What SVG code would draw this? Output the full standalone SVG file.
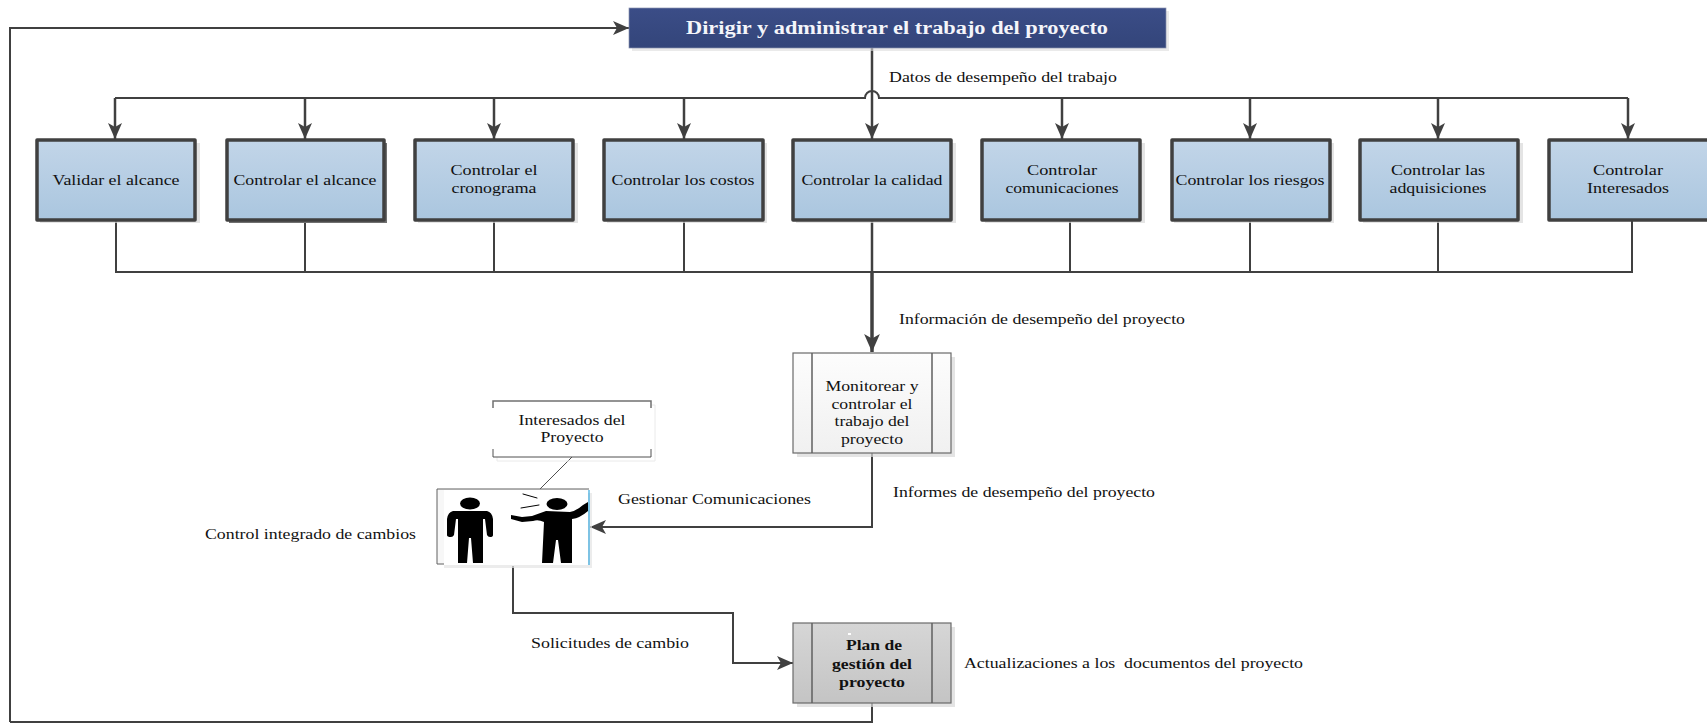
<svg xmlns="http://www.w3.org/2000/svg" width="1707" height="724" viewBox="0 0 1707 724">
<style>
text{font-family:"Liberation Serif","Times New Roman",serif;font-size:15.5px;fill:#111;white-space:pre}
.m{text-anchor:middle}
.box{fill:url(#blue);stroke:#404040;stroke-width:3.5;stroke-linejoin:round}
.sh{fill:#d9d9d9;opacity:.7}
.c{fill:none;stroke:#404040;stroke-width:2}
.h{fill:none;stroke:#404040;stroke-width:2.5}
.t{fill:none;stroke:#404040;stroke-width:3.5}
.inner{fill:none;stroke:#606060;stroke-width:1.5}
.p{fill:#000}
.l{fill:none;stroke:#000;stroke-linecap:round;stroke-linejoin:round}
</style>
<defs>
<linearGradient id="blue" x1="0" y1="0" x2="0" y2="1"><stop offset="0" stop-color="#c2d5e8"/><stop offset="1" stop-color="#aac6df"/></linearGradient>
<linearGradient id="navy" x1="0" y1="0" x2="0" y2="1"><stop offset="0" stop-color="#3b4d87"/><stop offset="1" stop-color="#33457a"/></linearGradient>
<linearGradient id="wh" x1="0" y1="0" x2="0" y2="1"><stop offset="0" stop-color="#fdfdfd"/><stop offset="1" stop-color="#f0f0f0"/></linearGradient>
<linearGradient id="gr" x1="0" y1="0" x2="0" y2="1"><stop offset="0" stop-color="#d6d6d6"/><stop offset="1" stop-color="#c4c4c4"/></linearGradient>
<marker id="a" viewBox="0 0 16 14" refX="16" refY="7" markerWidth="16" markerHeight="14" markerUnits="userSpaceOnUse" orient="auto"><path d="M0 0L16 7L0 14L4 7Z" fill="#404040"/></marker>
<marker id="b" viewBox="0 0 16 14" refX="16" refY="7" markerWidth="18" markerHeight="16" markerUnits="userSpaceOnUse" orient="auto"><path d="M0 0L16 7L0 14L4 7Z" fill="#404040"/></marker>
</defs>

<g id="connectors">
<path class="c" d="M10 722V28H629" marker-end="url(#a)"/>
<path class="c" d="M872 703V722H10"/>
<path class="h" d="M872 48V139" marker-end="url(#a)"/>
<path class="c" d="M115 98H865A7 7 0 0 1 879 98H1628"/>
<path class="h" d="M115 98V139" marker-end="url(#a)"/>
<path class="h" d="M305 98V139" marker-end="url(#a)"/>
<path class="h" d="M494 98V139" marker-end="url(#a)"/>
<path class="h" d="M684 98V139" marker-end="url(#a)"/>
<path class="h" d="M1062 98V139" marker-end="url(#a)"/>
<path class="h" d="M1250 98V139" marker-end="url(#a)"/>
<path class="h" d="M1438 98V139" marker-end="url(#a)"/>
<path class="h" d="M1628 98V139" marker-end="url(#a)"/>
<path class="c" d="M116 219V272H1632V219M305 219V272M494 219V272M684 219V272M1070 219V272M1250 219V272M1438 219V272"/>
<path class="h" d="M872 219V272"/>
<path class="t" d="M872 272V352" marker-end="url(#b)"/>
<path class="c" d="M872 453V527H590" marker-end="url(#a)"/>
<path class="c" d="M513 566V613H733V663H793" marker-end="url(#a)"/>
<path d="M572 457L537 492" fill="none" stroke="#505050" stroke-width="1"/>
</g>

<g id="n-top">
<rect x="632" y="11" width="537" height="40" fill="#dcdcdc" opacity=".6"/>
<rect x="629" y="8" width="537" height="40" fill="url(#navy)" stroke="#8a93b0" stroke-width=".7"/>
<text x="897" y="34" class="m" font-weight="bold" style="fill:#f4f5fa;font-size:18px" textLength="422" lengthAdjust="spacingAndGlyphs">Dirigir y administrar el trabajo del proyecto</text>
</g>

<g id="n1"><rect class="sh" x="40" y="143" width="160" height="80"/><rect class="box" x="37" y="140" width="158" height="80"/><text x="116" y="185" class="m" textLength="127" lengthAdjust="spacingAndGlyphs">Validar el alcance</text></g>
<g id="n2"><rect x="229" y="143" width="158" height="80" fill="#707070"/><rect class="box" x="227" y="140" width="157" height="80"/><text x="305" y="185" class="m" textLength="143" lengthAdjust="spacingAndGlyphs">Controlar el alcance</text></g>
<g id="n3"><rect class="sh" x="418" y="143" width="160" height="80"/><rect class="box" x="415" y="140" width="158" height="80"/><text x="494" y="175" class="m" textLength="87" lengthAdjust="spacingAndGlyphs">Controlar el</text><text x="494" y="193" class="m" textLength="85" lengthAdjust="spacingAndGlyphs">cronograma</text></g>
<g id="n4"><rect class="sh" x="607" y="143" width="160" height="80"/><rect class="box" x="604" y="140" width="159" height="80"/><text x="683" y="185" class="m" textLength="143" lengthAdjust="spacingAndGlyphs">Controlar los costos</text></g>
<g id="n5"><rect class="sh" x="796" y="143" width="160" height="80"/><rect class="box" x="793" y="140" width="158" height="80"/><text x="872" y="185" class="m" textLength="141" lengthAdjust="spacingAndGlyphs">Controlar la calidad</text></g>
<g id="n6"><rect class="sh" x="985" y="143" width="160" height="80"/><rect class="box" x="982" y="140" width="158" height="80"/><text x="1062" y="175" class="m" textLength="70" lengthAdjust="spacingAndGlyphs">Controlar</text><text x="1062" y="193" class="m" textLength="113" lengthAdjust="spacingAndGlyphs">comunicaciones</text></g>
<g id="n7"><rect class="sh" x="1174" y="143" width="160" height="80"/><rect class="box" x="1172" y="140" width="158" height="80"/><text x="1250" y="185" class="m" textLength="149" lengthAdjust="spacingAndGlyphs">Controlar los riesgos</text></g>
<g id="n8"><rect class="sh" x="1363" y="143" width="160" height="80"/><rect class="box" x="1360" y="140" width="158" height="80"/><text x="1438" y="175" class="m" textLength="94" lengthAdjust="spacingAndGlyphs">Controlar las</text><text x="1438" y="193" class="m" textLength="97" lengthAdjust="spacingAndGlyphs">adquisiciones</text></g>
<g id="n9"><rect class="box" x="1549" y="140" width="160" height="80"/><text x="1628" y="175" class="m" textLength="70" lengthAdjust="spacingAndGlyphs">Controlar</text><text x="1628" y="193" class="m" textLength="82" lengthAdjust="spacingAndGlyphs">Interesados</text></g>

<g id="n-monitor">
<rect class="sh" x="797" y="357" width="158" height="100"/>
<rect x="793" y="353" width="158" height="100" fill="url(#wh)" stroke="#6a6a6a" stroke-width="1.2"/>
<path class="inner" d="M812 353V453M932 353V453"/>
<text x="872" y="391" class="m" textLength="93" lengthAdjust="spacingAndGlyphs">Monitorear y</text>
<text x="872" y="409" class="m" textLength="81" lengthAdjust="spacingAndGlyphs">controlar el</text>
<text x="872" y="426" class="m" textLength="75" lengthAdjust="spacingAndGlyphs">trabajo del</text>
<text x="872" y="444" class="m" textLength="62" lengthAdjust="spacingAndGlyphs">proyecto</text>
</g>

<g id="n-plan">
<rect class="sh" x="797" y="627" width="158" height="80"/>
<rect x="793" y="623" width="158" height="80" fill="url(#gr)" stroke="#6a6a6a" stroke-width="1.2"/>
<path class="inner" d="M812 623V703M932 623V703"/>
<rect x="848" y="633" width="3" height="2" fill="#fff"/>
<text x="874" y="650" class="m" font-weight="bold" textLength="56" lengthAdjust="spacingAndGlyphs">Plan de</text>
<text x="872" y="669" class="m" font-weight="bold" textLength="80" lengthAdjust="spacingAndGlyphs">gestión del</text>
<text x="872" y="687" class="m" font-weight="bold" textLength="66" lengthAdjust="spacingAndGlyphs">proyecto</text>
</g>

<g id="n-callout">
<path d="M497 405H655V461H497Z" fill="none" stroke="#eaeaea" stroke-width="1"/>
<rect x="493" y="401" width="158" height="56" fill="#fff"/>
<path d="M493 408V401H651V408" fill="none" stroke="#707070" stroke-width="1.5"/>
<path d="M493 449V457H651V449" fill="none" stroke="#505050" stroke-width="1"/>
<text x="572" y="425" class="m" textLength="107" lengthAdjust="spacingAndGlyphs">Interesados del</text>
<text x="572" y="442" class="m" textLength="63" lengthAdjust="spacingAndGlyphs">Proyecto</text>
</g>

<g id="n-personas">
<rect x="444" y="493" width="148" height="75" fill="#e4e4e4" opacity=".7"/>
<path d="M444 564H437V489H589" fill="#f7f7f7" stroke="#606060" stroke-width="1"/>
<rect x="444" y="490" width="144" height="75" fill="#fff"/>
<path d="M589 490V565" stroke="#35a8e0" stroke-width="1.2"/>
<ellipse cx="470" cy="503.500" rx="10" ry="6" class="p"/>
<path class="p" d="M453 511Q448 512 447 519V535Q447 537 451 537Q453 537 454 535L456 519H458V563H467L469 538H471L473 563H483V519H485L487 535Q488 537 490 537Q493 537 493 535V519Q492 512 487 511Z"/>
<ellipse cx="557" cy="504" rx="10.500" ry="6" class="p"/>
<path class="p" d="M546 511L570 512Q576 511 583 505L588 502V511Q580 518 572 519L572 563H561L558 540H556L553 563H542L544 522Q538 519 533 521L522 522L511 519V515L522 517L532 516Z"/>
<path class="l" d="M523 494L537 498M521 508L539 505" stroke-width="1"/>
</g>

<g id="labels">
<text x="889" y="82" textLength="228" lengthAdjust="spacingAndGlyphs">Datos de desempeño del trabajo</text>
<text x="899" y="324" textLength="286" lengthAdjust="spacingAndGlyphs">Información de desempeño del proyecto</text>
<text x="893" y="497" textLength="262" lengthAdjust="spacingAndGlyphs">Informes de desempeño del proyecto</text>
<text x="618" y="504" textLength="193" lengthAdjust="spacingAndGlyphs">Gestionar Comunicaciones</text>
<text x="205" y="539" textLength="211" lengthAdjust="spacingAndGlyphs">Control integrado de cambios</text>
<text x="531" y="648" textLength="158" lengthAdjust="spacingAndGlyphs">Solicitudes de cambio</text>
<text x="964" y="668" textLength="339" lengthAdjust="spacingAndGlyphs">Actualizaciones a los  documentos del proyecto</text>
</g>
</svg>
